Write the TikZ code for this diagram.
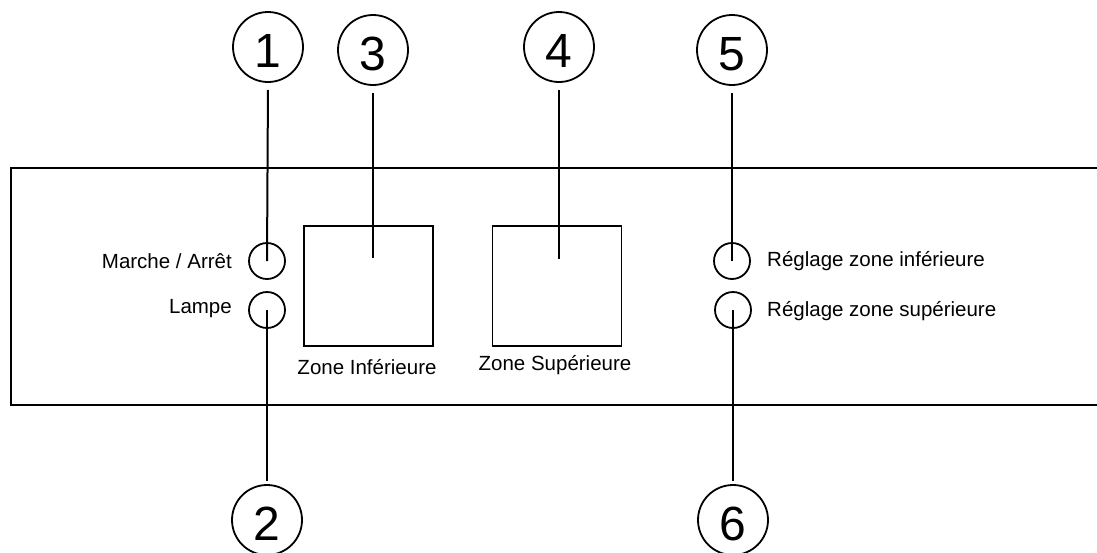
\documentclass[tikz,border=0pt]{standalone}
\usepackage{fontspec}
\setmainfont{Liberation Sans}
\begin{document}
\begin{tikzpicture}[x=1pt,y=-1pt,
  numcirc/.style={circle,draw,line width=1.8pt,minimum size=70pt,inner sep=0pt,text height=40pt,text depth=0pt,font=\fontsize{48}{50}\selectfont},
  knob/.style={circle,draw,line width=1.8pt,minimum size=36pt,inner sep=0pt},
  zonebox/.style={draw,line width=1.4pt,minimum width=129pt,minimum height=120pt,inner sep=0pt},
  lbl/.style={inner sep=0pt,font=\fontsize{20.5}{24}\selectfont},
  lead/.style={line width=2pt},
  panel/.style={line width=2.6pt}]
\useasboundingbox (0,0) rectangle (1097,552);
% panel
\draw[panel] (1110,168) -| (11,405) -- (1110,405);
% number circles
\node[numcirc] (n1) at (268,47) {1};
\node[numcirc] (n3) at (373,50) {3};
\node[numcirc] (n4) at (559,47) {4};
\node[numcirc] (n5) at (732,50) {5};
\node[numcirc] (n2) at (267,520) {2};
\node[numcirc] (n6) at (733,520) {6};
% knobs
\node[knob] (b1) at (267,261) {};
\node[knob] (b2) at (267,310) {};
\node[knob] (b5) at (732,261) {};
\node[knob] (b6) at (733,310) {};
% zone squares
\node[zonebox] (z3) at (368.5,286) {};
\node[zonebox] (z4) at (557,286) {};
\coordinate (e3) at (373,258);
\coordinate (e4) at (559,259);
% labels
\node[lbl,anchor=east] (t1) at (232,261) {Marche / Arrêt};
\node[lbl,anchor=east] (t2) at (232,309) {Lampe};
\node[lbl,anchor=west] (t5) at (767,261) {Réglage zone inférieure};
\node[lbl,anchor=west] (t6) at (767,311) {Réglage zone supérieure};
\node[lbl] (tz3) at (367,367) {Zone Inférieure};
\node[lbl] (tz4) at (555,365) {Zone Supérieure};
% leaders
\draw[lead,shorten <=7pt] (n1.south) -- (b1.center);
\draw[lead,shorten <=7pt] (n3.south) -- (e3);
\draw[lead,shorten <=7pt] (n4.south) -- (e4);
\draw[lead,shorten <=7pt] (n5.south) -- (b5.center);
\draw[lead,shorten <=3pt] (n2.north) -- (b2.center);
\draw[lead,shorten <=3pt] (n6.north) -- (b6.center);
\end{tikzpicture}
\end{document}
